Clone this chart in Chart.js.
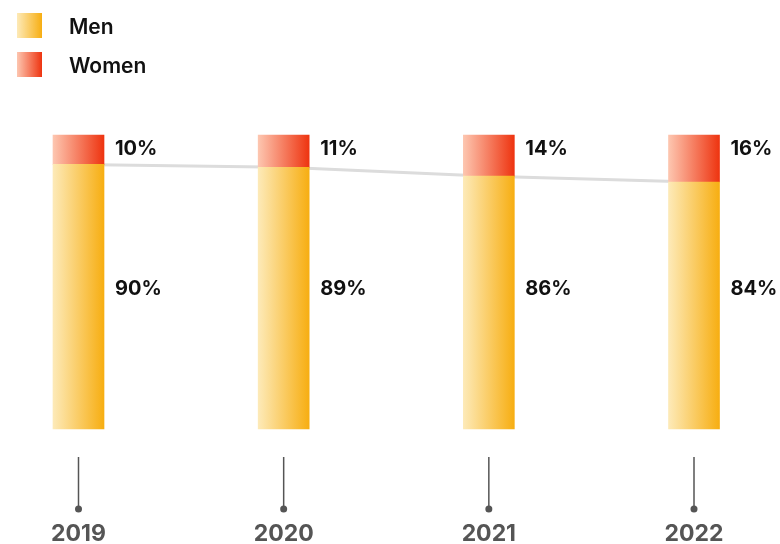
<!DOCTYPE html>
<html>
<head>
<meta charset="utf-8">
<script src="https://cdn.jsdelivr.net/npm/chart.js@4/dist/chart.umd.min.js"></script>
<style>
  body { margin: 0; background: #fff; }
  #wrap { position: relative; width: 780px; height: 544px; }
  .leg { position: absolute; left: 17px; display: flex; align-items: center; font-family: Inter, sans-serif; font-weight: 600; font-size: 21px; color: #111; }
  .leg span.sw { width: 25px; height: 25px; margin-right: 27px; }
</style>
</head>
<body>
<div id="wrap">
  <canvas id="myChart" width="780" height="544"></canvas>
  <div class="leg" style="top:12px"><span class="sw" style="background:linear-gradient(to right,#fdeab8,#f7ae12)"></span><span style="margin-top:2px">Men</span></div>
  <div class="leg" style="top:50px"><span class="sw" style="background:linear-gradient(to right,#fdc6b0,#ee3410)"></span><span style="margin-top:3px">Women</span></div>
</div>
<script>
// data
const years = ['2019', '2020', '2021', '2022'];
const men = [90, 89, 86, 84];
const women = [10, 11, 14, 16];

const barW = 51;

function gradient(ctx, from, to) {
	const chart = ctx.chart;
	if (!chart.chartArea || !chart.scales.x) return to;
	const x = chart.scales.x.getPixelForValue(ctx.dataIndex);
	const g = chart.ctx.createLinearGradient(x - barW / 2, 0, x + barW / 2, 0);
	g.addColorStop(0, from);
	g.addColorStop(1, to);
	return g;
}

// value labels next to the bars
const valueLabels = {
	id: 'valueLabels',
	afterDatasetsDraw(chart) {
		const c = chart.ctx;
		const area = chart.chartArea;
		c.save();
		c.font = '700 20px Inter, sans-serif';
		c.fillStyle = '#111';
		c.textBaseline = 'middle';
		c.textAlign = 'left';
		chart.getDatasetMeta(1).data.forEach((bar, i) => {
			c.fillText(women[i] + '%', bar.x + barW / 2 + 11, area.top + 14);
		});
		chart.getDatasetMeta(0).data.forEach((bar, i) => {
			c.fillText(men[i] + '%', bar.x + barW / 2 + 11, chart.scales.y.getPixelForValue(47.5));
		});
		c.restore();
	}
};

// x axis: stems with dots and year labels
const yearAxis = {
	id: 'yearAxis',
	afterDraw(chart) {
		const c = chart.ctx;
		const b = chart.chartArea.bottom;
		c.save();
		c.strokeStyle = '#555';
		c.fillStyle = '#555';
		c.lineWidth = 1.5;
		years.forEach((y, i) => {
			const x = chart.scales.x.getPixelForValue(i);
			c.beginPath();
			c.moveTo(x, b + 28);
			c.lineTo(x, b + 80);
			c.stroke();
			c.beginPath();
			c.arc(x, b + 80, 3.5, 0, Math.PI * 2);
			c.fill();
		});
		c.font = '700 23px Inter, sans-serif';
		c.textAlign = 'center';
		c.textBaseline = 'middle';
		years.forEach((y, i) => {
			c.fillText(y, chart.scales.x.getPixelForValue(i), b + 105);
		});
		c.restore();
	}
};

const ctx = document.getElementById('myChart');
new Chart(ctx, {
	type: 'bar',
	data: {
		labels: years,
		datasets: [{
			label: 'Men',
			data: men,
			stack: 'a',
			order: 1,
			barThickness: barW,
			clip: false,
			backgroundColor: (c) => gradient(c, '#fdeab8', '#f7ae12')
		}, {
			label: 'Women',
			data: women,
			stack: 'a',
			order: 1,
			barThickness: barW,
			clip: false,
			backgroundColor: (c) => gradient(c, '#fdc6b0', '#ee3410')
		}, {
			type: 'line',
			label: 'trend',
			data: men,
			stack: 'line',
			order: 2,
			borderColor: '#dcdcdc',
			borderWidth: 3,
			pointRadius: 0,
			tension: 0,
			clip: false
		}]
	},
	options: {
		responsive: false,
		animation: false,
		layout: { padding: { top: 135, bottom: 115, left: 78.5, right: 86 } },
		plugins: { legend: { display: false }, tooltip: { enabled: false } },
		scales: {
			x: { offset: false, stacked: true, display: false, grid: { display: false } },
			y: { stacked: true, display: false, min: 0, max: 100, grid: { display: false } }
		}
	},
	plugins: [valueLabels, yearAxis]
});
</script>
</body>
</html>
